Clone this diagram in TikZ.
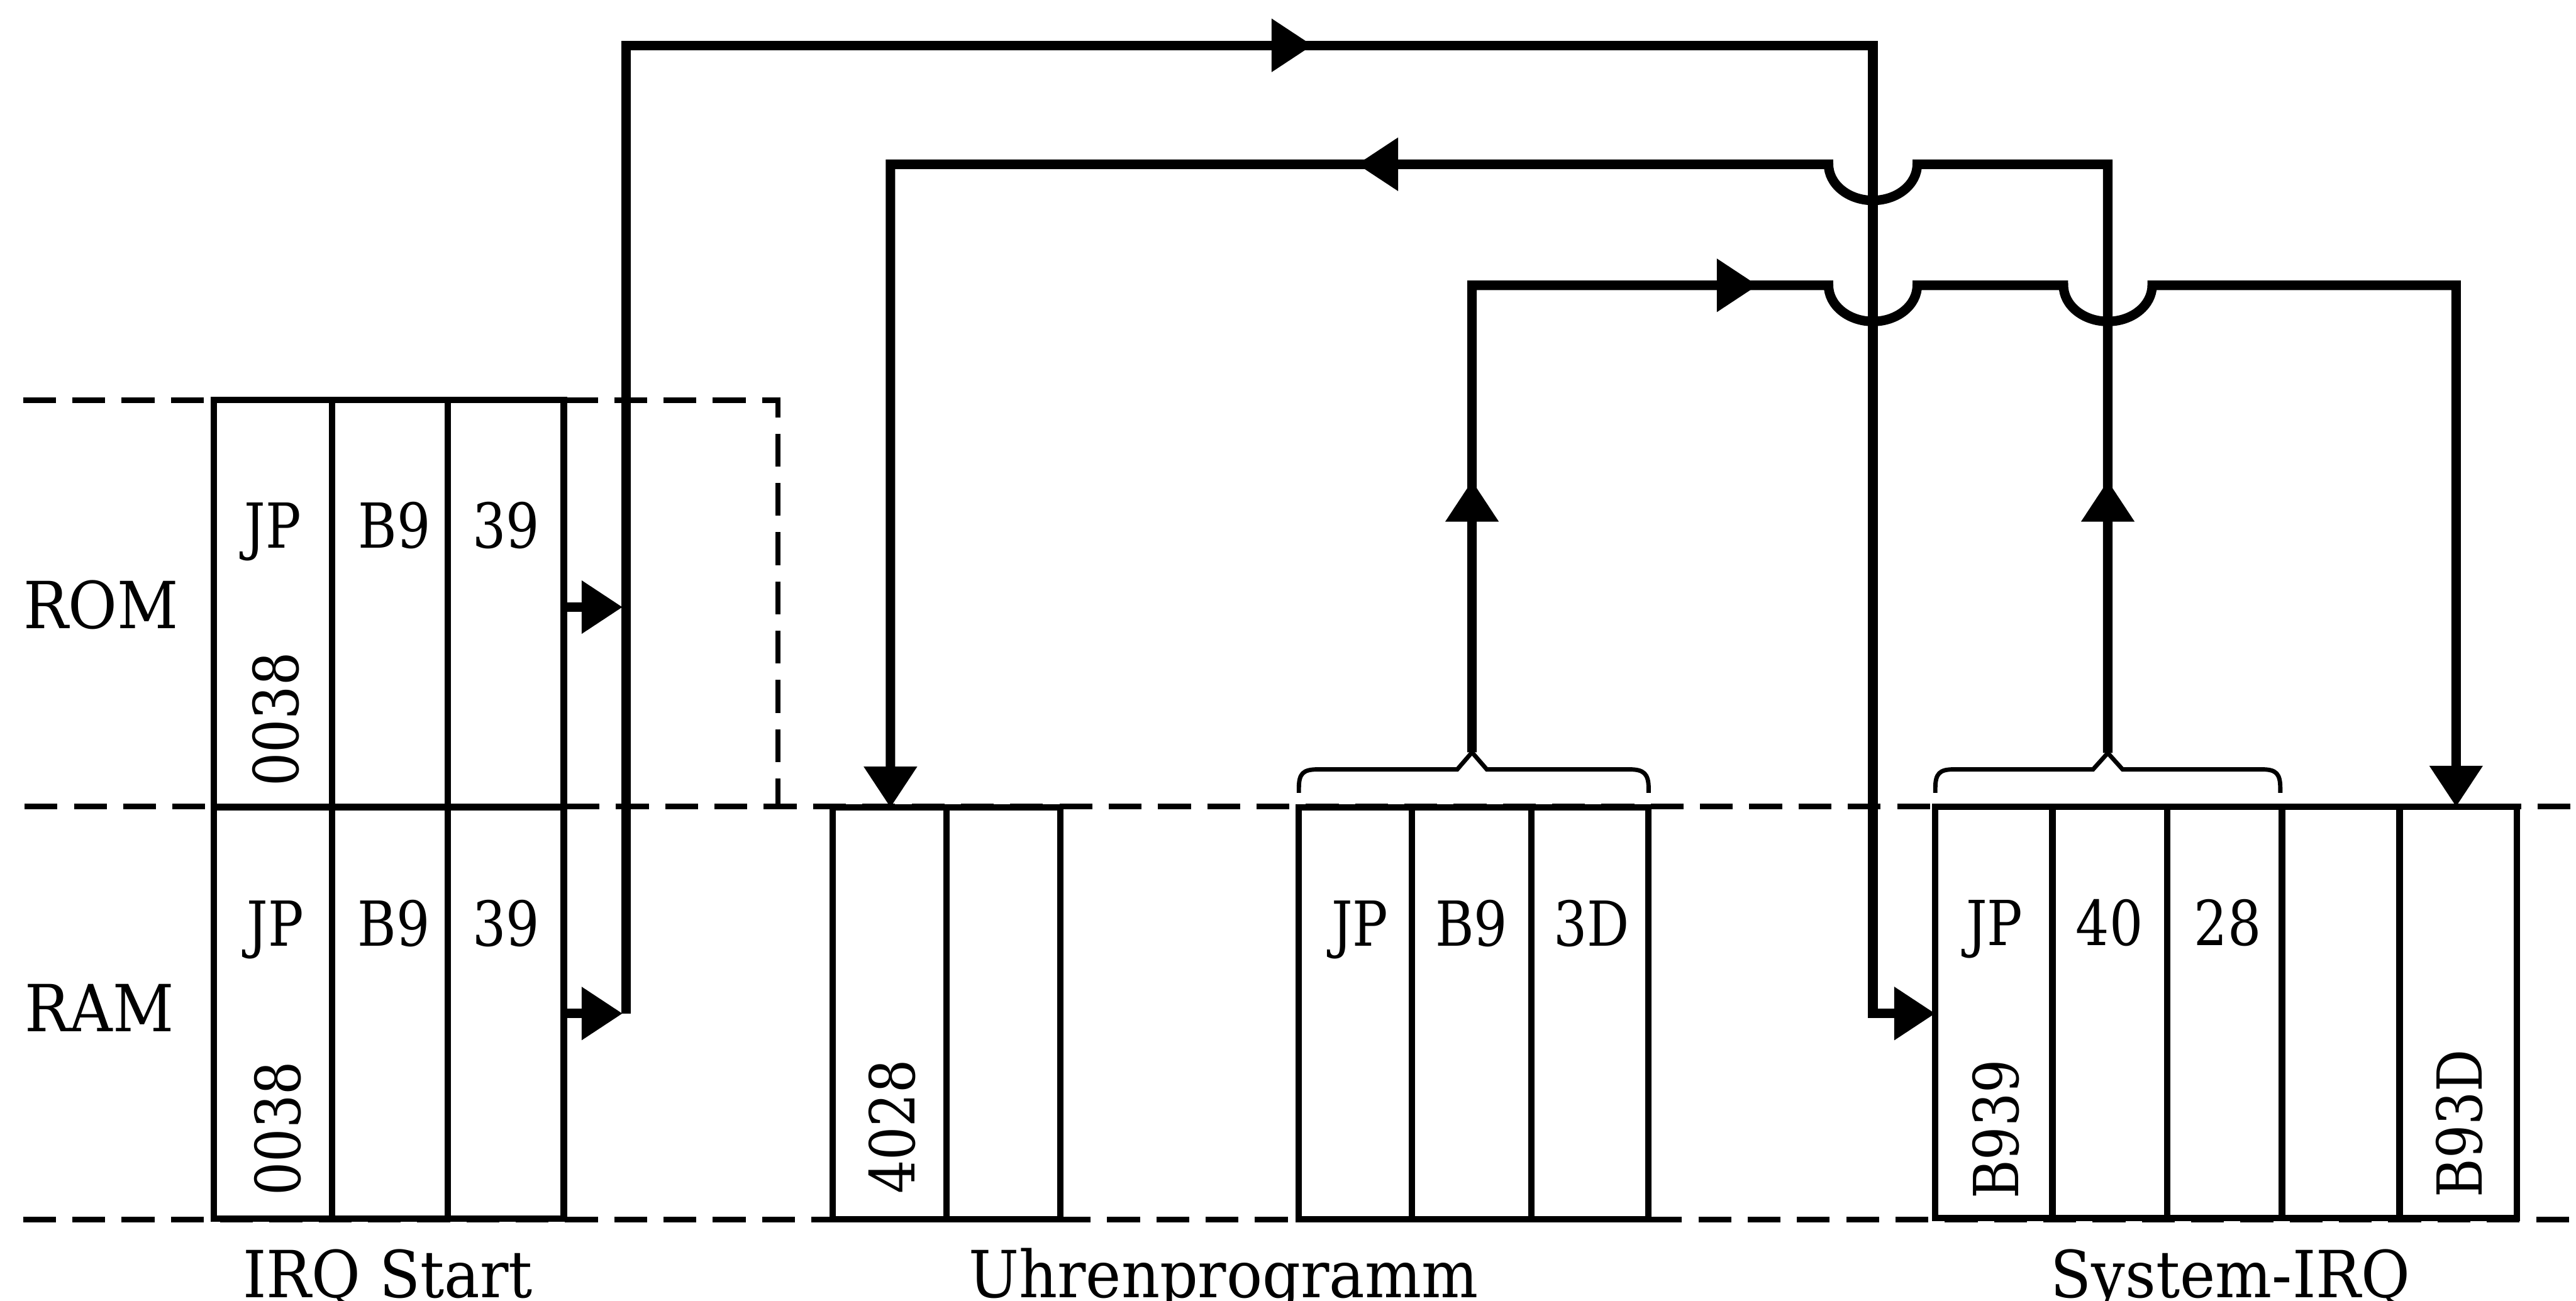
\documentclass[tikz,border=0pt]{standalone}
\usepackage{fontspec}
\setmainfont{DejaVu Serif}[FakeStretch=0.92]
\newfontfamily\cellfont{DejaVu Serif}[FakeStretch=0.85]
\usetikzlibrary{arrows.meta}
\begin{document}
\begin{tikzpicture}[x=0.02cm,y=-0.02cm,
  dsh/.style={line width=1.9pt, dash pattern=on 0.4cm off 0.2cm},
  romcell/.style={draw, line width=2.2pt, inner sep=0pt, outer sep=0pt, minimum height=4.95cm},
  ramcell/.style={draw, line width=2.2pt, inner sep=0pt, outer sep=0pt, minimum height=5.01cm},
  txt/.style={font=\cellfont\fontsize{21.5pt}{24pt}\selectfont, inner sep=0pt, anchor=base},
  rtxt/.style={font=\cellfont\fontsize{21.5pt}{24pt}\selectfont, inner sep=0pt, rotate=90, anchor=center},
  lbl/.style={font=\fontsize{22.5pt}{25pt}\selectfont, inner sep=0pt, anchor=base},
  conn/.style={line width=3.3pt},
  tip/.style={-{Triangle[length=0.5cm,width=0.62cm]}},
  brc/.style={line width=1.5pt}]
\useasboundingbox (0,0) rectangle (1568,792);

% dashed region borders
\coordinate (dtl) at (14,243.6);
\coordinate (dtr) at (473.5,243.6);
\coordinate (dtb) at (473.5,491);
\coordinate (dml) at (15,491);
\coordinate (dmr) at (1568,491);
\coordinate (dbl) at (14,742.5);
\coordinate (dbr) at (1568,742.5);
\draw[dsh] (dtl) -- (dtr) -- (dtb);
\draw[dsh] (dml) -- (dmr);
\draw[dsh] (dbl) -- (dbr);

% IRQ Start cells
\node[romcell, minimum width=1.44cm]  (r1) at (166,367.3) {};
\node[romcell, minimum width=1.414cm] (r2) at (237.35,367.3) {};
\node[romcell, minimum width=1.41cm]  (r3) at (307.95,367.3) {};
\node[ramcell, minimum width=1.44cm]  (m1) at (166,616.7) {};
\node[ramcell, minimum width=1.414cm] (m2) at (237.35,616.7) {};
\node[ramcell, minimum width=1.41cm]  (m3) at (307.95,616.7) {};

% Uhrenprogramm cells
\node[ramcell, minimum width=1.38cm]  (u1) at (541.5,616.9) {};
\node[ramcell, minimum width=1.388cm] (u2) at (610.7,616.9) {};
\node[ramcell, minimum width=1.376cm] (u3) at (825,616.9) {};
\node[ramcell, minimum width=1.452cm] (u4) at (895.7,616.9) {};
\node[ramcell, minimum width=1.43cm]  (u5) at (967.75,616.9) {};

% System-IRQ cells
\node[ramcell, minimum width=1.426cm] (s1) at (1213.65,616.4) {};
\node[ramcell, minimum width=1.394cm] (s2) at (1284.15,616.4) {};
\node[ramcell, minimum width=1.4cm]   (s3) at (1354,616.4) {};
\node[ramcell, minimum width=1.432cm] (s4) at (1424.8,616.4) {};
\node[ramcell, minimum width=1.428cm] (s5) at (1496.3,616.4) {};

% cell texts
\node[txt] (t1) at (166,333.5) {JP};
\node[txt] (t2) at (240,333.5) {B9};
\node[txt] (t3) at (308,333.5) {39};
\node[rtxt] (t4) at (168,438) {0038};
\node[txt] (t5) at (167.6,576) {JP};
\node[txt] (t6) at (239.6,576) {B9};
\node[txt] (t7) at (308,576) {39};
\node[rtxt] (t8) at (169,687) {0038};
\node[rtxt] (t9) at (543,686) {4028};
\node[txt] (t10) at (827.7,576) {JP};
\node[txt] (t11) at (895.6,576) {B9};
\node[txt] (t12) at (968.8,576) {3D};
\node[txt] (t13) at (1214,575.5) {JP};
\node[txt] (t14) at (1284,575.5) {40};
\node[txt] (t15) at (1356,575.5) {28};
\node[rtxt] (t16) at (1215,687.5) {B939};
\node[rtxt] (t17) at (1497,684) {B93D};

% labels
\node[lbl] (lrom) at (61.4,382.5) {ROM};
\node[lbl] (lram) at (60.5,628) {RAM};
\node[lbl] (lirq) at (236,790) {IRQ Start};
\node[lbl] (luhr) at (744.7,790) {Uhrenprogramm};
\node[lbl] (lsys) at (1357.6,790) {System-IRQ};

% braces
\coordinate (bp1) at (896,458);
\coordinate (bp2) at (1283,458.4);
\draw[brc] (790.6,482.7) -- (790.6,480) .. controls (790.6,471) and (793,468.4) .. (802,468.4)
  -- (887,468.4) -- (bp1) -- (905,468.4) -- (992,468.4)
  .. controls (1000.5,468.4) and (1003.5,471) .. (1003.5,480) -- (1003.5,482.7);
\draw[brc] (1178,482.7) -- (1178,480) .. controls (1178,471) and (1180.5,468.4) .. (1189,468.4)
  -- (1274,468.4) -- (bp2) -- (1292,468.4) -- (1377,468.4)
  .. controls (1385.5,468.4) and (1388,471) .. (1388,480) -- (1388,482.7);

% connector 1: IRQ Start -> System-IRQ
\coordinate (v1b) at (381,617);
\coordinate (v1t) at (381,27.6);
\coordinate (v2t) at (1140,27.6);
\coordinate (v2b) at (1140,617);
\draw[conn,tip] (v1b) -- (v1t) -- (v2t) -- (v2b) -- (s1.west |- v2b);
\coordinate (aR) at (379,369.6);
\coordinate (aM) at (379,617);
\draw[conn,tip] (r3.east |- aR) -- (aR);
\draw[conn,tip] (m3.east |- aM) -- (aM);
\coordinate (a1) at (799,27.6);
\draw[conn,tip] ([xshift=-0.6cm]a1) -- (a1);

% connector 2: System-IRQ JP 40 28 -> 4028
\coordinate (c2a) at (1283,100);
\coordinate (c2b) at (542,100);
\draw[conn,tip] (bp2) -- (c2a) -- (1167,100) arc[start angle=0,end angle=180,x radius=27,y radius=22]
  -- (c2b) -- (c2b |- u1.north);
\coordinate (a2) at (826,100);
\draw[conn,tip] ([xshift=0.6cm]a2) -- (a2);
\coordinate (a5) at (1283,292.6);
\draw[conn,tip] ([yshift=-0.6cm]a5) -- (a5);

% connector 3: Uhrenprogramm JP B9 3D -> B93D
\coordinate (c3a) at (896,173.7);
\coordinate (c3b) at (1495,173.7);
\draw[conn,tip] (bp1) -- (c3a) -- (1113,173.7) arc[start angle=180,end angle=0,x radius=27,y radius=22]
  -- (1256,173.7) arc[start angle=180,end angle=0,x radius=27,y radius=22]
  -- (c3b) -- (c3b |- s5.north);
\coordinate (a3) at (1070,173.7);
\draw[conn,tip] ([xshift=-0.6cm]a3) -- (a3);
\coordinate (a4) at (896,292.6);
\draw[conn,tip] ([yshift=-0.6cm]a4) -- (a4);
\end{tikzpicture}
\end{document}
